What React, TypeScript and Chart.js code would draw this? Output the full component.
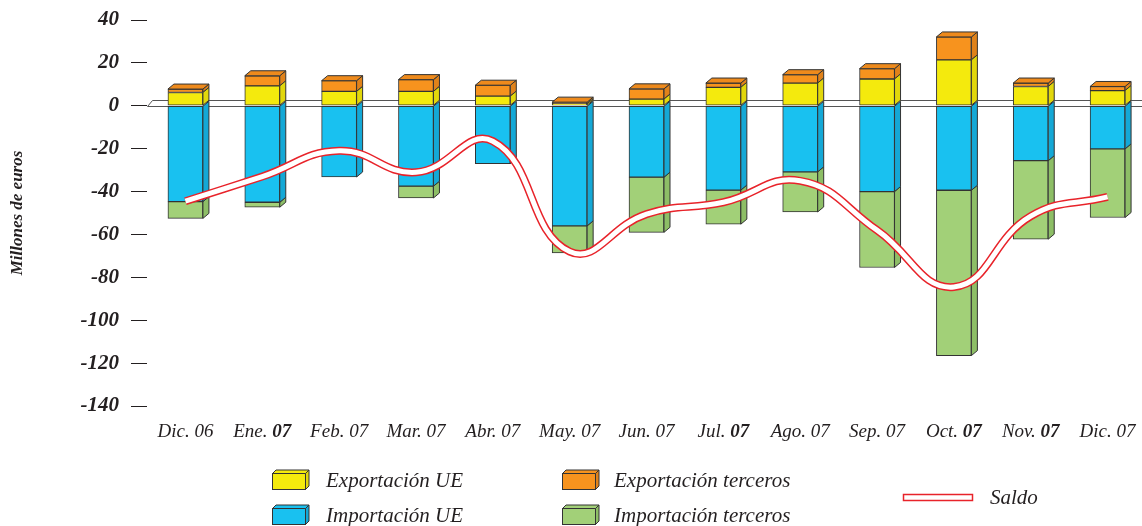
import React, { useEffect, useRef } from "react";
import { Chart, registerables } from "chart.js";

Chart.register(...registerables);

const categories = ["Dic. 06", "Ene. 07", "Feb. 07", "Mar. 07", "Abr. 07", "May. 07", "Jun. 07", "Jul. 07", "Ago. 07", "Sep. 07", "Oct. 07", "Nov. 07", "Dic. 07"];
const boldYear = [false, true, false, false, false, false, false, true, false, false, true, true, false];

const exportacionUE = [6.2, 9.3, 6.7, 6.7, 4.5, 0.9, 3.1, 8.6, 10.6, 12.5, 21.4, 9.0, 7.1];
const exportacionTerceros = [1.6, 4.7, 5.0, 5.5, 5.1, 0.8, 4.8, 2.0, 3.9, 4.8, 10.7, 1.6, 1.9];
const importacionUE = [-44.7, -45.0, -33.2, -37.5, -27.0, -56.0, -33.3, -39.3, -30.8, -40.0, -39.4, -25.6, -20.1];
const importacionTerceros = [-7.8, -2.3, 0, -5.5, 0, -12.6, -25.7, -15.9, -18.7, -35.4, -77.1, -36.6, -32.0];
const saldo = [-44.5, -33.0, -21.0, -31.0, -16.5, -68.0, -50.5, -45.0, -35.0, -58.0, -84.5, -51.5, -42.5];

const yTicks = [40, 20, 0, -20, -40, -60, -80, -100, -120, -140];

const FONT = "'Liberation Serif', 'DejaVu Serif', serif";
const EDGE = "#333333";
const DX = 6;
const DY = -5;

const colors = {
  expUE: { front: "#F4EA0D", side: "#E2D70B", top: "#F8EF4A" },
  expTer: { front: "#F7931E", side: "#E0821A", top: "#EE8A1C" },
  impUE: { front: "#19C1F0", side: "#14A8D6", top: "#19C1F0" },
  impTer: { front: "#A2D078", side: "#8DBE66", top: "#A2D078" },
};

const faces3d = {
  id: "faces3d",
  beforeDatasetsDraw(chart: any) {
    const { ctx, chartArea, scales } = chart;
    const y0 = Math.round(scales.y.getPixelForValue(0)) + 0.5;
    const l = chartArea.left + 0.5;
    const r = chart.width;
    ctx.save();
    ctx.fillStyle = "#ffffff";
    ctx.beginPath();
    ctx.moveTo(l, y0);
    ctx.lineTo(l + 5, y0 - 6);
    ctx.lineTo(r, y0 - 6);
    ctx.lineTo(r, y0);
    ctx.closePath();
    ctx.fill();
    ctx.strokeStyle = "#555555";
    ctx.lineWidth = 1;
    ctx.beginPath();
    ctx.moveTo(l, y0);
    ctx.lineTo(r, y0);
    ctx.moveTo(l, y0);
    ctx.lineTo(l + 5, y0 - 6);
    ctx.lineTo(r, y0 - 6);
    ctx.stroke();
    ctx.restore();
  },
  afterDatasetDraw(chart: any, args: any) {
    const ds = chart.data.datasets[args.index];
    if (ds.type !== "bar") return;
    const c = (colors as any)[ds.key];
    const { ctx } = chart;
    ctx.save();
    ctx.lineWidth = 1;
    ctx.strokeStyle = EDGE;
    args.meta.data.forEach((el: any, i: number) => {
      const v = ds.data[i];
      if (!v) return;
      const { x, y, base, width } = el.getProps(["x", "y", "base", "width"], true);
      const left = x - width / 2;
      const right = x + width / 2;
      const top = Math.min(y, base);
      const bottom = Math.max(y, base);
      ctx.fillStyle = c.side;
      ctx.beginPath();
      ctx.moveTo(right, top);
      ctx.lineTo(right + DX, top + DY);
      ctx.lineTo(right + DX, bottom + DY);
      ctx.lineTo(right, bottom);
      ctx.closePath();
      ctx.fill();
      ctx.stroke();
      if (ds.key === "expTer") {
        ctx.fillStyle = c.top;
        ctx.beginPath();
        ctx.moveTo(left, top);
        ctx.lineTo(left + DX, top + DY);
        ctx.lineTo(right + DX, top + DY);
        ctx.lineTo(right, top);
        ctx.closePath();
        ctx.fill();
        ctx.stroke();
      }
    });
    ctx.restore();
  },
  afterDraw(chart: any) {
    const { ctx, scales, chartArea } = chart;
    const xs = scales.x;
    ctx.save();
    ctx.fillStyle = "#231F20";
    ctx.textBaseline = "alphabetic";
    const baseY = chartArea.bottom + 31;
    const reg = `italic 19px ${FONT}`;
    const bold = `italic bold 19px ${FONT}`;
    categories.forEach((lab, i) => {
      const x = xs.getPixelForTick(i);
      const parts = lab.split(" ");
      const p1 = parts[0] + " ";
      const p2 = parts[1];
      ctx.font = reg;
      const w1 = ctx.measureText(p1).width;
      ctx.font = boldYear[i] ? bold : reg;
      const w2 = ctx.measureText(p2).width;
      const sx = x - (w1 + w2) / 2;
      ctx.font = reg;
      ctx.textAlign = "left";
      ctx.fillText(p1, sx, baseY);
      ctx.font = boldYear[i] ? bold : reg;
      ctx.fillText(p2, sx + w1, baseY);
    });

    // legend
    const box = (bx: number, by: number, c: any) => {
      const w = 33, h = 16, d = 3.5;
      ctx.lineWidth = 1;
      ctx.strokeStyle = EDGE;
      ctx.fillStyle = c.front;
      ctx.fillRect(bx, by, w, h);
      ctx.strokeRect(bx + 0.5, by + 0.5, w, h);
      ctx.fillStyle = c.side;
      ctx.beginPath();
      ctx.moveTo(bx + w + 0.5, by + 0.5);
      ctx.lineTo(bx + w + d + 0.5, by - d + 0.5);
      ctx.lineTo(bx + w + d + 0.5, by + h - d + 0.5);
      ctx.lineTo(bx + w + 0.5, by + h + 0.5);
      ctx.closePath();
      ctx.fill();
      ctx.stroke();
      ctx.fillStyle = c.front;
      ctx.beginPath();
      ctx.moveTo(bx + 0.5, by + 0.5);
      ctx.lineTo(bx + d + 0.5, by - d + 0.5);
      ctx.lineTo(bx + w + d + 0.5, by - d + 0.5);
      ctx.lineTo(bx + w + 0.5, by + 0.5);
      ctx.closePath();
      ctx.fill();
      ctx.stroke();
    };
    const items = [
      { x: 272, y: 473, tx: 326, ty: 487, c: colors.expUE, t: "Exportación UE" },
      { x: 272, y: 508, tx: 326, ty: 522, c: colors.impUE, t: "Importación UE" },
      { x: 562, y: 473, tx: 614, ty: 487, c: colors.expTer, t: "Exportación terceros" },
      { x: 562, y: 508, tx: 614, ty: 522, c: colors.impTer, t: "Importación terceros" },
    ];
    items.forEach((it) => {
      box(it.x, it.y, it.c);
      ctx.fillStyle = "#231F20";
      ctx.font = `italic 21px ${FONT}`;
      ctx.textAlign = "left";
      ctx.fillText(it.t, it.tx, it.ty);
    });
    ctx.fillStyle = "#ffffff";
    ctx.fillRect(903, 494, 69, 6);
    ctx.strokeStyle = "#E8232A";
    ctx.lineWidth = 1.5;
    ctx.strokeRect(903.5, 494.5, 69, 6);
    ctx.fillStyle = "#231F20";
    ctx.font = `italic 21px ${FONT}`;
    ctx.fillText("Saldo", 990, 504);
    ctx.restore();
  },
};

export default function App() {
  const ref = useRef<HTMLCanvasElement>(null);
  useEffect(() => {
    if (!ref.current) return;
    const barBase = {
      type: "bar" as const,
      stack: "bars",
      borderColor: EDGE,
      borderWidth: 1,
      borderSkipped: false,
      barThickness: 35,
      order: 1,
    };
    const chart = new Chart(ref.current, {
      type: "bar",
      data: {
        labels: categories,
        datasets: [
          { ...barBase, key: "expUE", label: "Exportación UE", data: exportacionUE, backgroundColor: colors.expUE.front },
          { ...barBase, key: "expTer", label: "Exportación terceros", data: exportacionTerceros, backgroundColor: colors.expTer.front },
          { ...barBase, key: "impUE", label: "Importación UE", data: importacionUE, backgroundColor: colors.impUE.front },
          { ...barBase, key: "impTer", label: "Importación terceros", data: importacionTerceros, backgroundColor: colors.impTer.front },
          {
            type: "line",
            label: "Saldo",
            stack: "saldoOuter",
            data: saldo,
            borderColor: "#E8232A",
            borderWidth: 8,
            pointRadius: 0,
            tension: 0.45,
            fill: false,
            order: -1,
          },
          {
            type: "line",
            label: "Saldo inner",
            stack: "saldoInner",
            data: saldo,
            borderColor: "#ffffff",
            borderWidth: 5,
            pointRadius: 0,
            tension: 0.45,
            fill: false,
            order: -2,
          },
        ] as any,
      },
      options: {
        animation: false,
        responsive: false,
        devicePixelRatio: 1,
        layout: { padding: { top: 0, left: 0, right: 0, bottom: 0 } },
        plugins: { legend: { display: false }, tooltip: { enabled: false } },
        scales: {
          x: {
            stacked: true,
            grid: { display: false },
            border: { display: false },
            ticks: { display: false },
            afterFit: (s: any) => {
              s.height = 120;
            },
          },
          y: {
            stacked: true,
            min: -140,
            max: 40,
            afterBuildTicks: (s: any) => {
              s.ticks = yTicks.map((v) => ({ value: v }));
            },
            afterFit: (s: any) => {
              s.width = 147;
              s.paddingTop = 20;
              s.paddingBottom = 0;
            },
            grid: { drawOnChartArea: false, drawTicks: true, tickLength: 16, color: "#231F20", lineWidth: 1 },
            border: { display: false },
            ticks: {
              padding: 12,
              color: "#231F20",
              font: { family: FONT, size: 21, style: "italic", weight: "bold" },
              callback: (v: any) => String(v),
            },
            title: {
              display: true,
              text: "Millones de euros",
              color: "#231F20",
              font: { family: FONT, size: 17, style: "italic", weight: "bold" },
              padding: { top: 7, bottom: 0 },
            },
          },
        },
      },
      plugins: [faces3d],
    } as any);
    return () => chart.destroy();
  }, []);
  return (
    <div style={{ position: "fixed", left: 0, top: 0, width: 1142, height: 526, overflow: "hidden", background: "#fff" }}>
      <canvas ref={ref} width={1146} height={526} style={{ display: "block" }} />
    </div>
  );
}
